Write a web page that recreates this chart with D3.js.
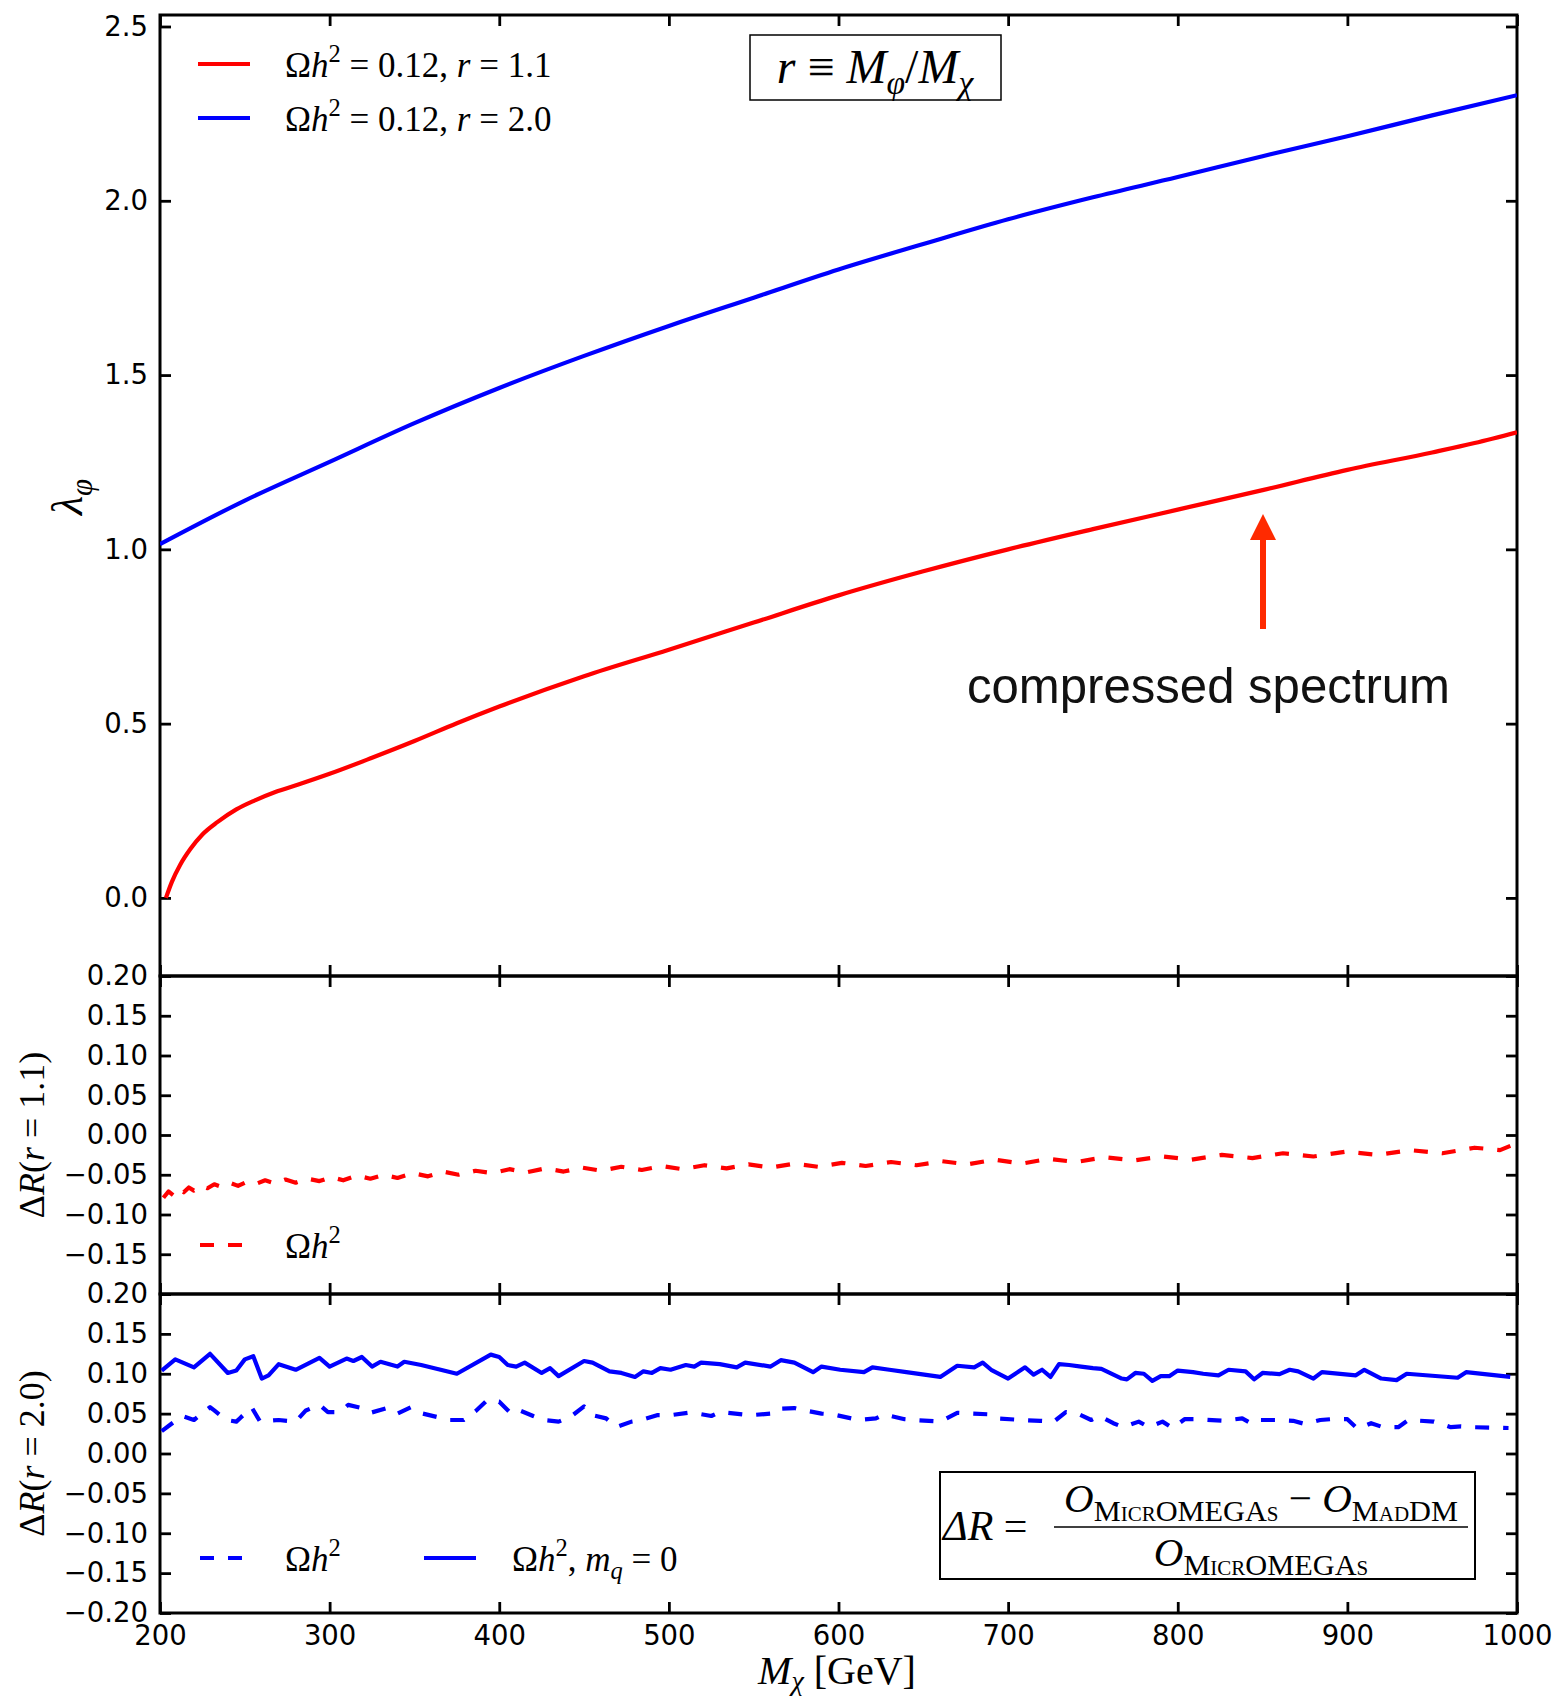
<!DOCTYPE html>
<html>
<head>
<meta charset="utf-8">
<script src="https://cdn.jsdelivr.net/npm/d3@7"></script>
<style>
  body { margin: 0; background: #fff; }
  svg { display: block; }
</style>
</head>
<body>
<svg id="fig" width="1558" height="1704"></svg>
<script>
// ---- coupling needed for the relic density, r = 1.1 (compressed) ----
const redMass   = [203.5, 207, 212, 218, 225, 234, 245, 256, 268, 282, 300, 325, 350, 375, 400, 450, 500, 550, 600, 650, 700, 750, 800, 850, 900, 950, 975, 1000];
const redLambda = [0.0, 0.046, 0.096, 0.141, 0.182, 0.218, 0.254, 0.280, 0.304, 0.326, 0.356, 0.402, 0.450, 0.501, 0.549, 0.636, 0.712, 0.790, 0.868, 0.937, 1.000, 1.058, 1.114, 1.170, 1.228, 1.278, 1.305, 1.336];

// ---- coupling needed for the relic density, r = 2.0 ----
const blueMass   = [200, 250, 300, 350, 400, 450, 500, 550, 600, 650, 700, 750, 800, 850, 900, 950, 1000];
const blueLambda = [1.015, 1.140, 1.251, 1.362, 1.463, 1.555, 1.641, 1.722, 1.803, 1.876, 1.947, 2.010, 2.068, 2.128, 2.185, 2.245, 2.303];

// ---- relative difference, r = 1.1, Omega h^2 ----
const dr11Mass = [202, 205, 208, 211, 214, 217, 220, 224, 228, 232, 236, 241, 246, 251, 256, 262, 268, 274, 280, 287, 294, 301, 308, 316, 324, 332, 340, 349, 358, 367, 376, 386, 396, 406, 416, 427, 438, 449, 460, 472, 484, 496, 508, 521, 534, 547, 560, 574, 588, 602, 616, 631, 646, 661, 676, 692, 708, 724, 740, 757, 774, 791, 808, 826, 844, 862, 880, 899, 918, 937, 956, 975, 990, 998];
const dr11Vals = [-0.079, -0.071, -0.076, -0.068, -0.072, -0.066, -0.070, -0.064, -0.067, -0.062, -0.065, -0.060, -0.064, -0.059, -0.062, -0.057, -0.061, -0.056, -0.060, -0.055, -0.058, -0.053, -0.057, -0.051, -0.055, -0.050, -0.054, -0.048, -0.052, -0.046, -0.050, -0.045, -0.048, -0.043, -0.047, -0.042, -0.046, -0.041, -0.045, -0.040, -0.044, -0.039, -0.043, -0.038, -0.042, -0.037, -0.041, -0.036, -0.040, -0.035, -0.039, -0.034, -0.038, -0.033, -0.037, -0.031, -0.036, -0.030, -0.034, -0.028, -0.032, -0.027, -0.031, -0.025, -0.029, -0.023, -0.027, -0.021, -0.025, -0.019, -0.023, -0.016, -0.019, -0.012];

// ---- relative difference, r = 2.0, Omega h^2 ----
const dr20Mass = [201, 206, 213, 220, 229.5, 232, 239, 245, 247, 254, 259, 264, 270, 280, 286, 294, 299, 306, 311, 319, 324, 334, 340, 348, 355, 371, 379, 386, 393, 400, 407, 412, 420, 426, 435, 442, 450, 455, 463, 469, 478, 484, 493, 501, 511, 517, 525, 530, 548, 560, 563, 574, 580, 590, 597, 612, 622, 627, 639, 645, 660, 670, 690, 694, 708, 719, 727, 734, 741, 749, 754, 762, 768, 777, 783, 791, 797, 804, 811, 827, 838, 844, 849, 858, 868, 875, 884, 890, 900, 906, 914, 921, 930, 936, 951, 961, 967, 974, 995];
const dr20Vals = [0.028, 0.036, 0.047, 0.042, 0.058, 0.054, 0.042, 0.040, 0.044, 0.058, 0.040, 0.041, 0.042, 0.040, 0.054, 0.061, 0.052, 0.052, 0.061, 0.057, 0.051, 0.057, 0.050, 0.058, 0.050, 0.042, 0.042, 0.053, 0.067, 0.065, 0.050, 0.054, 0.047, 0.042, 0.040, 0.046, 0.059, 0.048, 0.044, 0.033, 0.040, 0.042, 0.048, 0.048, 0.051, 0.050, 0.047, 0.052, 0.048, 0.050, 0.056, 0.057, 0.054, 0.050, 0.049, 0.042, 0.044, 0.049, 0.043, 0.042, 0.040, 0.051, 0.049, 0.044, 0.042, 0.041, 0.040, 0.052, 0.050, 0.042, 0.047, 0.038, 0.033, 0.040, 0.033, 0.040, 0.032, 0.043, 0.043, 0.041, 0.044, 0.037, 0.042, 0.042, 0.041, 0.037, 0.042, 0.043, 0.043, 0.031, 0.038, 0.033, 0.033, 0.042, 0.040, 0.033, 0.034, 0.033, 0.032];

// ---- relative difference, r = 2.0, Omega h^2 with massless quarks ----
const dr20q0Mass = [201, 209, 220, 229.5, 240, 245, 250, 255, 260, 264, 270, 280, 294, 300, 310, 314, 319, 325, 330, 340, 344, 354, 375, 395, 400, 405, 410, 415, 425, 430, 435, 450, 455, 465, 472, 480, 485, 490, 495, 501, 510, 515, 519, 530, 540, 545, 560, 566, 574, 585, 590, 601, 615, 620, 630, 640, 660, 670, 680, 685, 690, 700, 710, 715, 720, 725, 730, 736, 743, 750, 755, 767, 770, 775, 780, 785, 790, 795, 800, 809, 815, 824, 830, 840, 845, 850, 860, 866, 871, 880, 885, 905, 910, 920, 929, 935, 965, 970, 996];
const dr20q0Vals = [0.104, 0.118, 0.108, 0.125, 0.101, 0.104, 0.118, 0.122, 0.094, 0.098, 0.112, 0.105, 0.120, 0.109, 0.119, 0.116, 0.121, 0.109, 0.115, 0.109, 0.115, 0.111, 0.100, 0.124, 0.121, 0.111, 0.109, 0.114, 0.101, 0.107, 0.097, 0.116, 0.114, 0.103, 0.101, 0.096, 0.103, 0.101, 0.107, 0.105, 0.111, 0.109, 0.114, 0.112, 0.108, 0.114, 0.109, 0.117, 0.114, 0.102, 0.109, 0.105, 0.102, 0.108, 0.105, 0.102, 0.096, 0.110, 0.108, 0.114, 0.105, 0.094, 0.108, 0.099, 0.105, 0.096, 0.112, 0.111, 0.109, 0.107, 0.106, 0.094, 0.093, 0.101, 0.100, 0.091, 0.097, 0.097, 0.104, 0.102, 0.100, 0.098, 0.105, 0.103, 0.093, 0.101, 0.0995, 0.105, 0.103, 0.094, 0.102, 0.098, 0.105, 0.094, 0.092, 0.100, 0.095, 0.102, 0.096];

// ---- axis ticks ----
const massTicks   = [200, 300, 400, 500, 600, 700, 800, 900, 1000];
const lambdaTicks = [0.0, 0.5, 1.0, 1.5, 2.0, 2.5];
const ratioTicks  = [-0.20, -0.15, -0.10, -0.05, 0.00, 0.05, 0.10, 0.15, 0.20];

const RED = "#ff0000", BLUE = "#0000ff", ARROW = "#ff2a00";
const SERIF = "'Liberation Serif', 'DejaVu Serif', serif";
const SANS = "'DejaVu Sans', sans-serif";
const LW = 4.2;

const svg = d3.select("#fig");
const left = 160, right = 1517;

const x = d3.scaleLinear().domain([200, 1000]).range([left, right]);
const panels = [
  { top: 15,   bottom: 976,  y: d3.scaleLinear().domain([-0.224, 2.533]).range([976, 15]),
    ticks: lambdaTicks, fmt: d3.format(".1f"), skip: [] },
  { top: 976,  bottom: 1294, y: d3.scaleLinear().domain([-0.2, 0.2]).range([1294, 976]),
    ticks: ratioTicks, fmt: d3.format(".2f"), skip: [-0.20] },
  { top: 1294, bottom: 1613, y: d3.scaleLinear().domain([-0.2, 0.2]).range([1613, 1294]),
    ticks: ratioTicks, fmt: d3.format(".2f"), skip: [] }
];

function styleAxis(g) {
  g.select(".domain").remove();
  g.selectAll(".tick line").attr("stroke", "#000").attr("stroke-width", 2.8);
  g.selectAll(".tick text").attr("font-family", SANS).attr("font-size", 27.5).attr("fill", "#000");
}

// math-style text built from tspans
function mathText(parent, xPos, yPos, size, parts, anchor) {
  const t = parent.append("text").attr("x", xPos).attr("y", yPos)
    .attr("font-family", SERIF).attr("font-size", size)
    .attr("text-anchor", anchor || "start").attr("fill", "#000");
  let shift = 0;
  parts.forEach(p => {
    const s = p.sup ? -0.42 * size : p.sub ? (p.subShift || 0.22) * size : 0;
    const sp = t.append("tspan").text(p.t).attr("dy", s - shift);
    shift = s;
    if (p.i) sp.attr("font-style", "italic");
    if (p.sup || p.sub) sp.attr("font-size", (p.scale || 0.7) * size);
    if (p.sc) sp.attr("font-variant", "small-caps");
    if (p.dx) sp.attr("dx", p.dx);
  });
  return t;
}

panels.forEach((p, i) => {
  const g = svg.append("g");
  const isLast = i === panels.length - 1;
  g.append("g").attr("transform", `translate(${left},0)`)
    .call(d3.axisLeft(p.y).tickValues(p.ticks).tickSize(-11).tickSizeOuter(0).tickPadding(12)
      .tickFormat(d => p.skip.some(s => Math.abs(s - d) < 1e-9) ? "" : p.fmt(d)))
    .call(styleAxis);
  g.append("g").attr("transform", `translate(${right},0)`)
    .call(d3.axisRight(p.y).tickValues(p.ticks).tickSize(-11).tickSizeOuter(0).tickFormat(""))
    .call(styleAxis);
  g.append("g").attr("transform", `translate(0,${p.top})`)
    .call(d3.axisTop(x).tickValues(massTicks).tickSize(-11).tickSizeOuter(0).tickFormat(""))
    .call(styleAxis);
  g.append("g").attr("transform", `translate(0,${p.bottom})`)
    .call(d3.axisBottom(x).tickValues(massTicks).tickSize(-11).tickSizeOuter(0).tickPadding(12)
      .tickFormat(isLast ? d3.format("d") : ""))
    .call(styleAxis);
  g.append("rect").attr("x", left).attr("y", p.top)
    .attr("width", right - left).attr("height", p.bottom - p.top)
    .attr("fill", "none").attr("stroke", "#000").attr("stroke-width", 3);
});

const defs = svg.append("defs");
panels.forEach((p, i) => {
  defs.append("clipPath").attr("id", "clip" + i).append("rect")
    .attr("x", left).attr("y", p.top).attr("width", right - left).attr("height", p.bottom - p.top);
});

function drawLine(panelIdx, xs, ys, color, dash, curve) {
  const p = panels[panelIdx];
  const pts = xs.map((m, k) => [m, ys[k]]);
  const line = d3.line().x(d => x(d[0])).y(d => p.y(d[1])).curve(curve || d3.curveLinear);
  svg.append("path").attr("clip-path", `url(#clip${panelIdx})`)
    .attr("d", line(pts)).attr("fill", "none").attr("stroke", color)
    .attr("stroke-width", LW).attr("stroke-linejoin", "round")
    .attr("stroke-dasharray", dash || null);
}

drawLine(0, blueMass, blueLambda, BLUE, null, d3.curveMonotoneX);
drawLine(0, redMass, redLambda, RED, null, d3.curveMonotoneX);
drawLine(1, dr11Mass, dr11Vals, RED, "14,14");
drawLine(2, dr20Mass, dr20Vals, BLUE, "14,14");
drawLine(2, dr20q0Mass, dr20q0Vals, BLUE, null);

// ---- legends ----
function legendLine(x1, x2, yy, color, dash) {
  svg.append("line").attr("x1", x1).attr("x2", x2).attr("y1", yy).attr("y2", yy)
    .attr("stroke", color).attr("stroke-width", LW).attr("stroke-dasharray", dash || null);
}
const omegaH2 = [{ t: "Ω" }, { t: "h", i: true }, { t: "2", sup: true }];
legendLine(198, 250, 64, RED);
mathText(svg, 285, 77, 35, omegaH2.concat([{ t: " = 0.12, " }, { t: "r", i: true }, { t: " = 1.1" }]));
legendLine(198, 250, 118, BLUE);
mathText(svg, 285, 131, 35, omegaH2.concat([{ t: " = 0.12, " }, { t: "r", i: true }, { t: " = 2.0" }]));

legendLine(200, 248, 1245, RED, "14,14");
mathText(svg, 285, 1258, 35, omegaH2);

legendLine(200, 248, 1558, BLUE, "14,14");
mathText(svg, 285, 1571, 35, omegaH2);
legendLine(424, 476, 1558, BLUE);
mathText(svg, 512, 1571, 35, omegaH2.concat([{ t: ", " }, { t: "m", i: true }, { t: "q", i: true, sub: true },
  { t: " = 0" }]));

// ---- definition of r ----
svg.append("rect").attr("x", 750).attr("y", 35).attr("width", 251).attr("height", 65)
  .attr("fill", "#fff").attr("stroke", "#000").attr("stroke-width", 1.5);
mathText(svg, 875, 83, 48, [{ t: "r", i: true }, { t: " ≡ " }, { t: "M", i: true }, { t: "φ", i: true, sub: true },
  { t: "/" }, { t: "M", i: true }, { t: "χ", i: true, sub: true }], "middle");

// ---- definition of Delta R ----
svg.append("rect").attr("x", 940).attr("y", 1472).attr("width", 535).attr("height", 107)
  .attr("fill", "#fff").attr("stroke", "#000").attr("stroke-width", 2);
mathText(svg, 943, 1540, 42, [{ t: "Δ", i: true }, { t: "R", i: true }, { t: " =" }]);
svg.append("line").attr("x1", 1054).attr("x2", 1468).attr("y1", 1527).attr("y2", 1527)
  .attr("stroke", "#000").attr("stroke-width", 1.6);
mathText(svg, 1261, 1512, 41, [{ t: "O", i: true }, { t: "MicrOMEGAs", sub: true, sc: true, scale: 0.74 },
  { t: " − " }, { t: "O", i: true }, { t: "MadDM", sub: true, sc: true, scale: 0.74 }], "middle");
mathText(svg, 1261, 1566, 41, [{ t: "O", i: true }, { t: "MicrOMEGAs", sub: true, sc: true, scale: 0.74 }], "middle");

// ---- axis titles ----
const yl1 = mathText(svg, 0, 0, 44, [{ t: "λ", i: true }, { t: "φ", i: true, sub: true }], "middle");
yl1.attr("transform", "translate(82,497) rotate(-90)");
const yl2 = mathText(svg, 0, 0, 36, [{ t: "Δ" }, { t: "R", i: true }, { t: "(" }, { t: "r", i: true },
  { t: " = 1.1)" }], "middle");
yl2.attr("transform", `translate(44,${(976 + 1294) / 2}) rotate(-90)`);
const yl3 = mathText(svg, 0, 0, 36, [{ t: "Δ" }, { t: "R", i: true }, { t: "(" }, { t: "r", i: true },
  { t: " = 2.0)" }], "middle");
yl3.attr("transform", `translate(44,${(1294 + 1613) / 2}) rotate(-90)`);
mathText(svg, 837, 1684, 40, [{ t: "M", i: true }, { t: "χ", i: true, sub: true, subShift: 0.16 },
  { t: " [GeV]" }], "middle");

// ---- annotation ----
svg.append("line").attr("x1", 1263).attr("x2", 1263).attr("y1", 629).attr("y2", 538)
  .attr("stroke", ARROW).attr("stroke-width", 6);
svg.append("path").attr("d", "M1263,514 L1276,540 L1250,540 Z").attr("fill", ARROW);
svg.append("text").attr("x", 967).attr("y", 703)
  .attr("font-family", "'Liberation Sans', Arial, sans-serif").attr("font-size", 50)
  .attr("textLength", 483).attr("lengthAdjust", "spacingAndGlyphs")
  .attr("fill", "#111").text("compressed spectrum");
</script>
</body>
</html>
